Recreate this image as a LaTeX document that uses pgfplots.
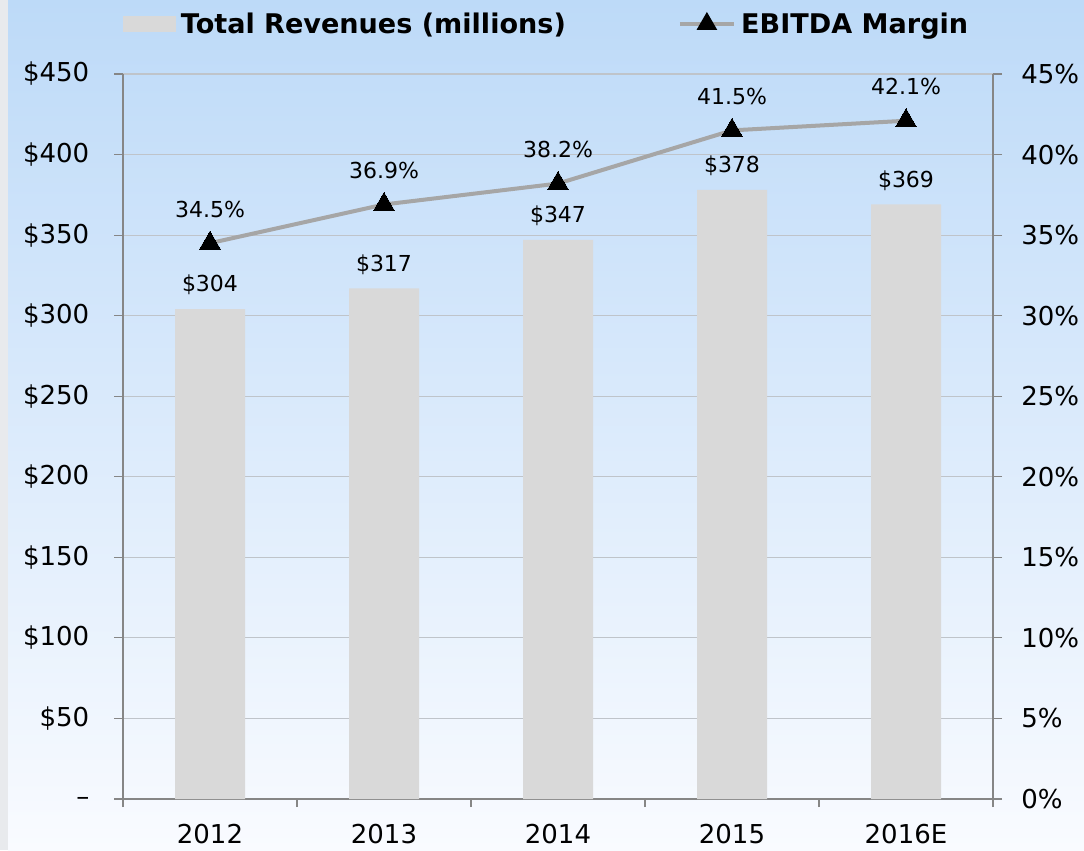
\documentclass[border=0pt]{standalone}
\usepackage{pgfplots}
\pgfplotsset{compat=1.18}
\usepackage{fontspec}
\setmainfont{DejaVu Sans}
\definecolor{bgtop}{HTML}{BDDAF8}
\definecolor{bgbot}{HTML}{F9FBFF}
\definecolor{strip}{HTML}{E8EAED}
\definecolor{bargray}{HTML}{D9D9D9}
\definecolor{linegray}{HTML}{A6A6A6}
\definecolor{gridgray}{HTML}{BFC4CA}
\definecolor{axisgray}{HTML}{868686}
\begin{document}
\begin{tikzpicture}[x=0.75pt,y=0.75pt]
\shade[top color=bgtop,bottom color=bgbot] (8,0) rectangle (1084,850);
\fill[strip] (0,0) rectangle (8,850);
\begin{axis}[
  at={(157.5pt,38.25pt)}, anchor=origin, scale only axis,
  width=652.5pt, height=543.75pt,
  xmin=-0.5, xmax=4.5, ymin=0, ymax=450,
  axis x line*=bottom, axis y line*=left,
  axis line style={axisgray, line width=0.9pt},
  tick align=outside,
  xtick={0,...,4}, xticklabels={2012,2013,2014,2015,2016E},
  major x tick style={draw=none},
  minor xtick={-0.5,0.5,...,4.5},
  minor tick length=6pt, major tick length=6.75pt,
  tick style={axisgray, line width=0.9pt},
  ytick={0,50,...,450},
  yticklabels={\raisebox{-5pt}[0pt][0pt]{–},\$50,\$100,\$150,\$200,\$250,\$300,\$350,\$400,\$450},
  ymajorgrids, grid style={gridgray, line width=0.9pt},
  ticklabel style={font=\fontsize{19.5}{22}\selectfont, text=black},
  yticklabel style={xshift=-15pt},
  xticklabel style={yshift=-8.5pt},
  ybar, bar width=52.5pt,
  nodes near coords, point meta=explicit symbolic,
  nodes near coords style={anchor=center, yshift=18pt, font=\fontsize{16.5}{19}\selectfont, text=black},
]
\addplot[fill=bargray, draw=none] coordinates {(0,304)[\$304] (1,317)[\$317] (2,347)[\$347] (3,378)[\$378] (4,369)[\$369]};
\end{axis}
\begin{axis}[
  at={(157.5pt,38.25pt)}, anchor=origin, scale only axis,
  width=652.5pt, height=543.75pt,
  xmin=-0.5, xmax=4.5, ymin=0, ymax=45,
  axis x line=none, axis y line*=right,
  axis line style={axisgray, line width=0.9pt},
  tick align=outside, major tick length=6.75pt,
  tick style={axisgray, line width=0.9pt},
  ytick={0,5,...,45},
  yticklabels={0\%,5\%,10\%,15\%,20\%,25\%,30\%,35\%,40\%,45\%},
  ticklabel style={font=\fontsize{19.5}{22}\selectfont, text=black},
  yticklabel style={xshift=11pt},
  legend columns=2,
  legend style={draw=none, fill=none, at={(0,1.069)}, anchor=west, inner sep=0pt, outer sep=0pt,
    font=\bfseries\fontsize{20.3}{23}\selectfont, text=black,
    /tikz/every odd column/.append style={column sep=2pt},
    /tikz/every even column/.append style={column sep=82pt}},
]
\addlegendimage{legend image code/.code={\fill[bargray] (0pt,-5.6pt) rectangle (39pt,5.6pt);}}
\addlegendentry{Total Revenues (millions)}
\addplot[linegray, line width=3pt, mark=triangle*, mark size=9pt, mark options={black, solid, line width=0pt},
  nodes near coords, point meta=explicit symbolic,
  nodes near coords style={anchor=center, yshift=25.5pt, font=\fontsize{16.5}{19}\selectfont, text=black},
  legend image code/.code={\draw[linegray, line width=3pt] (0pt,0pt) -- (40.5pt,0pt);
     \draw[black, mark=triangle*, mark size=6pt, mark options={solid}] plot coordinates {(20.25pt,0pt)};}]
  coordinates {(0,34.5)[34.5\%] (1,36.9)[36.9\%] (2,38.2)[38.2\%] (3,41.5)[41.5\%] (4,42.1)[42.1\%]};
\addlegendentry{EBITDA Margin}
\end{axis}
\pgfresetboundingbox
\path[use as bounding box] (0,0) rectangle (1084,850);
\end{tikzpicture}
\end{document}
